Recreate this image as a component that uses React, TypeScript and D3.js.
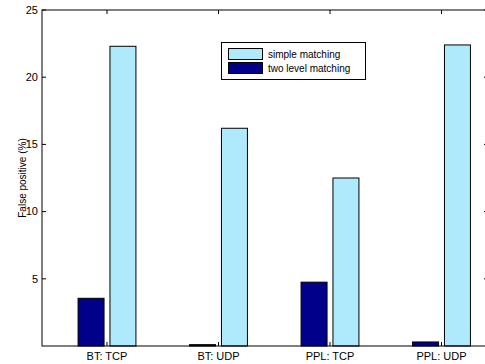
import * as d3 from "d3";

const categories = ["BT: TCP", "BT: UDP", "PPL: TCP", "PPL: UDP"];
const simpleMatching = [22.3, 16.2, 12.5, 22.4];
const twoLevelMatching = [3.55, 0.1, 4.75, 0.3];
const yTicks = [5, 10, 15, 20, 25];

const LIGHT = "#aeeafb";
const DARK = "#00008b";

export default function App() {
  const width = 485;
  const height = 364;
  const left = 42;
  const right = 488;
  const top = 10;
  const bottom = 346;

  const x = d3.scaleLinear([0.417, 4.417], [left, right]);
  const y = d3.scaleLinear([0, 25], [bottom, top]);
  const bw = x(0.233) - x(0);
  const off = 0.143;
  const font = "Liberation Sans, Arial, sans-serif";

  return (
    <svg width={width} height={height} style={{ position: "absolute", left: 0, top: 0, background: "white" }}>
      <g stroke="black" strokeWidth={1}>
        {categories.map((c, i) => (
          <g key={c}>
            <rect x={x(i + 1 - off) - bw / 2} y={y(twoLevelMatching[i])} width={bw}
              height={y(0) - y(twoLevelMatching[i])} fill={DARK} />
            <rect x={x(i + 1 + off) - bw / 2} y={y(simpleMatching[i])} width={bw}
              height={y(0) - y(simpleMatching[i])} fill={LIGHT} />
          </g>
        ))}
      </g>
      <g stroke="black" strokeWidth={1} fill="none">
        <rect x={left} y={top} width={right - left} height={bottom - top} />
        {yTicks.map((t) => (
          <g key={t}>
            <line x1={left} x2={left + 4} y1={y(t)} y2={y(t)} />
            <line x1={right} x2={right - 4} y1={y(t)} y2={y(t)} />
          </g>
        ))}
        {categories.map((c, i) => (
          <g key={c}>
            <line x1={x(i + 1)} x2={x(i + 1)} y1={bottom} y2={bottom - 4} />
            <line x1={x(i + 1)} x2={x(i + 1)} y1={top} y2={top + 4} />
          </g>
        ))}
      </g>
      <g fontFamily={font} fontSize={11} fill="black">
        {yTicks.map((t) => (
          <text key={t} x={left - 4} y={y(t)} dy="0.35em" textAnchor="end">{t}</text>
        ))}
        {categories.map((c, i) => (
          <text key={c} x={x(i + 1)} y={bottom + 14} textAnchor="middle">{c}</text>
        ))}
        <text transform={`translate(22,${(top + bottom) / 2}) rotate(-90)`} textAnchor="middle"
          fontSize={10} dy="0.35em">False positive (%)</text>
      </g>
      <g fontFamily={font} fontSize={10}>
        <rect x={221.5} y={42.5} width={144} height={37} fill="white" stroke="black" />
        <rect x={228.5} y={48.5} width={34} height={11} fill={LIGHT} stroke="black" />
        <rect x={228.5} y={62.5} width={34} height={11} fill={DARK} stroke="black" />
        <text x={268} y={54} dy="0.35em">simple matching</text>
        <text x={268} y={68} dy="0.35em">two level matching</text>
      </g>
    </svg>
  );
}
